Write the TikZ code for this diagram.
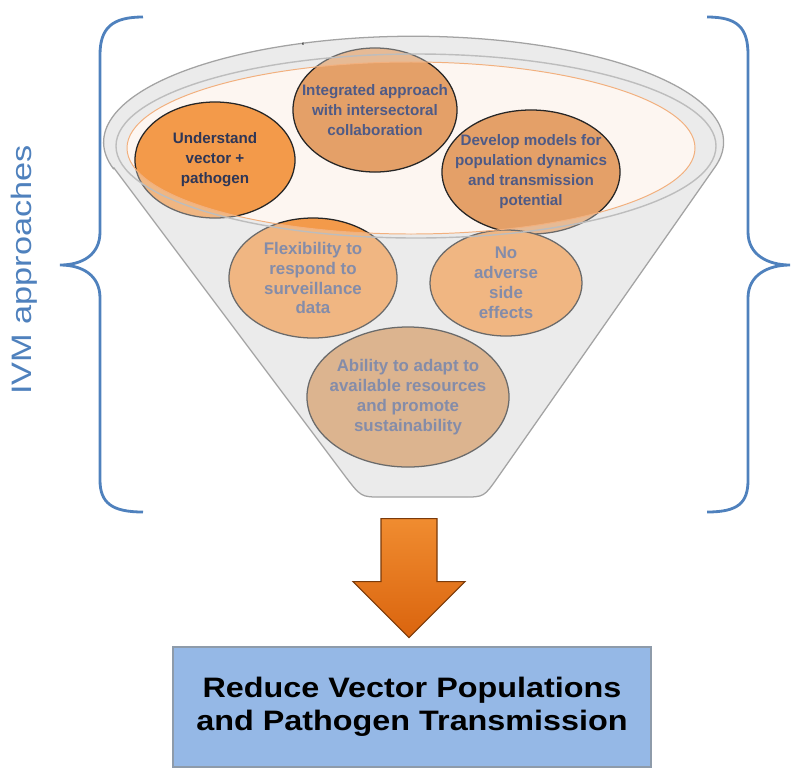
\documentclass[tikz,border=0pt]{standalone}
\usepackage{fontspec}
\setmainfont{Liberation Sans}
\usepackage{graphicx}
\usepackage{tikz}
\usetikzlibrary{shapes.geometric}
\definecolor{bracecol}{HTML}{4F81BD}
\definecolor{funnelcol}{HTML}{EBEBEB}
\definecolor{funneledge}{HTML}{A3A3A3}
\definecolor{rimline}{HTML}{BDBDBD}
\definecolor{openfill}{HTML}{FDF6F1}
\definecolor{openline}{HTML}{F2B07E}
\definecolor{hotcol}{HTML}{F39A4A}
\definecolor{warmcol}{HTML}{E4A068}
\definecolor{browncol}{HTML}{D4975F}
\definecolor{darktext}{HTML}{2E3656}
\definecolor{softtext}{HTML}{4E5A86}
\definecolor{goalcol}{HTML}{95B8E6}
\definecolor{goaledge}{HTML}{8E9BAA}
\definecolor{arrowtop}{HTML}{F08C30}
\definecolor{arrowbot}{HTML}{DA640E}
\definecolor{arrowedge}{HTML}{7A3A0A}

\begin{document}
\begin{tikzpicture}[x=0.025cm,y=-0.025cm]
  \tikzset{idea style/.style = {ellipse, draw=black!85, line width=0.9pt, inner xsep=-16pt, inner ysep=0pt,
      align=center, text=softtext, font=\bfseries\fontsize{10.8}{14.2}\selectfont},
    low style/.style = {idea style, font=\bfseries\fontsize{12}{14.2}\selectfont},
    brace style/.style = {draw=bracecol, line width=2pt},
    goal style/.style = {draw=goaledge, line width=2pt, fill=goalcol, minimum width=11.95cm, minimum height=3cm,
      align=center, font=\bfseries\fontsize{20}{23.5}\selectfont},
    funnel shape/.style = {insert path={(114,168) -- (345,476) .. controls (361,497) .. (381,497) -- (464,497)
      .. controls (484,497) .. (498,477) -- (715,167) arc[start angle=13.5, end angle=-194.4, x radius=310, y radius=106] -- cycle}}}
  \useasboundingbox (0,0) rectangle (800,778);

  \fill[funnelcol, funnel shape];
  \fill[openfill] (411,148) ellipse [x radius=284, y radius=86];

  \node[idea style, fill=hotcol, text=darktext, minimum width=4cm, minimum height=2.9cm] (understand) at (215,160) {Understand\\vector +\\pathogen};
  \node[idea style, fill=warmcol, minimum width=4.1cm, minimum height=3.1cm] (integrated) at (375,110) {Integrated approach\\with intersectoral\\collaboration};
  \node[idea style, fill=warmcol, minimum width=4.45cm, minimum height=3.1cm] (models) at (531,172) {Develop models for\\population dynamics\\and transmission\\potential};
  \node[low style, fill=hotcol, minimum width=4.2cm, minimum height=3cm] (flexible) at (313,278) {Flexibility to\\respond to\\surveillance\\data};
  \node[low style, fill=hotcol, minimum width=3.8cm, minimum height=2.65cm] (noharm) at (506,283) {No\\adverse\\side\\effects};
  \node[low style, fill=browncol, minimum width=5.05cm, minimum height=3.5cm] (adapt) at (408,397) {Ability to adapt to\\available resources\\and promote\\sustainability};

  \begin{scope}[even odd rule]
    \clip (0,0) rectangle (800,778) (411,148) ellipse [x radius=284, y radius=86];
    \fill[funnelcol, fill opacity=0.35, funnel shape];
  \end{scope}
  \draw[funneledge, line width=0.9pt, funnel shape];
  \draw[rimline, line width=1pt] (416,146) ellipse [x radius=300, y radius=92];
  \draw[openline, line width=0.7pt] (411,148) ellipse [x radius=284, y radius=86];
  \node (tick) at (303,47) {\fontsize{8}{8}\selectfont\char"60};

  \draw[brace style] (143,17) .. controls (112,17) and (100,28) .. (100,55) -- (100,232)
    .. controls (100,255) and (82,265) .. (60,265) .. controls (82,265) and (100,275) .. (100,298)
    -- (100,480) .. controls (100,503) and (112,512) .. (143,512);
  \draw[brace style] (707,17) .. controls (738,17) and (748,28) .. (748,55) -- (748,232)
    .. controls (748,255) and (768,265) .. (790,265) .. controls (768,265) and (748,275) .. (748,298)
    -- (748,480) .. controls (748,503) and (738,512) .. (707,512);
  \node[rotate=90, text=bracecol, font=\fontsize{20}{22}\selectfont] (ivm) at (24,270) {\scalebox{1.22}[1]{IVM approaches}};

  \node[goal style] (goal) at (412,707) {\scalebox{1.15}[1]{Reduce Vector Populations}\\\scalebox{1.15}[1]{and Pathogen Transmission}};
  \path (goal.north) ++(-3,-8) coordinate (tip);
  \shadedraw[top color=arrowtop, bottom color=arrowbot, draw=arrowedge, line width=0.8pt, shift={(tip)}]
    (0,0) -- (56,-56) -- (28,-56) -- (28,-119) -- (-28,-119) -- (-28,-56) -- (-56,-56) -- cycle;
\end{tikzpicture}
\end{document}
